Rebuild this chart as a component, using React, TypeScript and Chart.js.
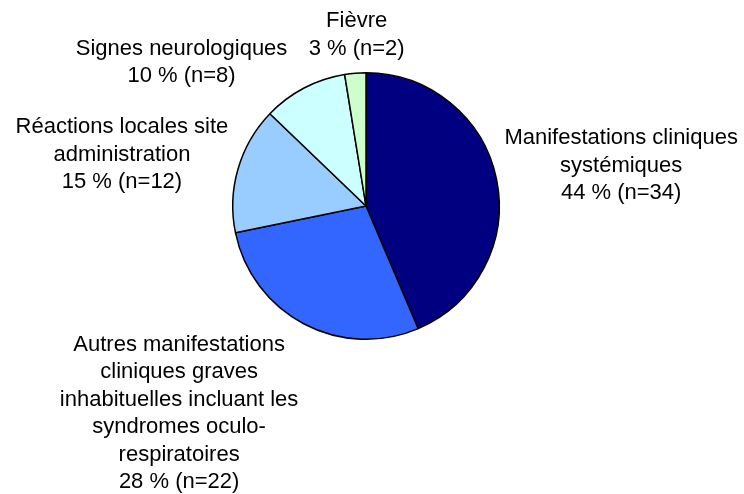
import React, { useEffect, useRef } from "react";
import { Chart, registerables } from "chart.js";

Chart.register(...registerables);

const CATEGORIES: string[][] = [
  ["Manifestations cliniques", "systémiques"],
  ["Autres manifestations", "cliniques graves", "inhabituelles incluant les", "syndromes oculo-", "respiratoires"],
  ["Réactions locales site", "administration"],
  ["Signes neurologiques"],
  ["Fièvre"],
];
const COUNTS: number[] = [34, 22, 12, 8, 2];
const COLORS: string[] = ["#000080", "#3366FF", "#99CCFF", "#CCFFFF", "#CCFFCC"];

// small layout tweaks for label blocks (px)
const LABEL_NUDGE: [number, number][] = [
  [0, -12],
  [-2, 0],
  [-2, -12],
  [-13, 9],
  [2, -3],
];

const FONT_SIZE = 22;
const LINE_H = 27.5;
const LABEL_GAP = 8;

const labelPlugin = {
  id: "pieLabels",
  afterDatasetsDraw(chart: any) {
    const ctx = chart.ctx as CanvasRenderingContext2D;
    const meta = chart.getDatasetMeta(0);
    const total = COUNTS.reduce((a, b) => a + b, 0);
    ctx.save();
    ctx.font = `${FONT_SIZE}px "Liberation Sans", Arial, sans-serif`;
    ctx.fillStyle = "#000";
    ctx.textBaseline = "middle";
    ctx.textAlign = "center";
    meta.data.forEach((arc: any, i: number) => {
      const { x, y, startAngle, endAngle, outerRadius } = arc.getProps(
        ["x", "y", "startAngle", "endAngle", "outerRadius"],
        true
      );
      const mid = (startAngle + endAngle) / 2;
      const cx = Math.cos(mid);
      const sy = Math.sin(mid);
      const ax = x + cx * (outerRadius + LABEL_GAP);
      const ay = y + sy * (outerRadius + LABEL_GAP);
      const pct = Math.round((COUNTS[i] / total) * 100);
      const lines = [...CATEGORIES[i], `${pct} % (n=${COUNTS[i]})`];
      const w = Math.max(...lines.map((l) => ctx.measureText(l).width));
      const h = lines.length * LINE_H;
      let centerX: number;
      if (cx > 0.3) centerX = ax + w / 2;
      else if (cx < -0.3) centerX = ax - w / 2;
      else centerX = ax;
      let top: number;
      if (sy < -0.5) top = ay - h;
      else if (sy > 0.5) top = ay;
      else top = ay - h / 2;
      centerX += LABEL_NUDGE[i][0];
      top += LABEL_NUDGE[i][1];
      lines.forEach((line, k) => {
        ctx.fillText(line, centerX, top + LINE_H * (k + 0.5));
      });
    });
    ctx.restore();
  },
};

export default function App() {
  const ref = useRef<HTMLCanvasElement | null>(null);
  useEffect(() => {
    document.body.style.margin = "0";
    document.body.style.overflow = "hidden";
    const canvas = ref.current;
    if (!canvas) return;
    const chart = new Chart(canvas, {
      type: "pie",
      data: {
        labels: CATEGORIES.map((c) => c.join(" ")),
        datasets: [
          {
            data: COUNTS,
            backgroundColor: COLORS,
            borderColor: "#000",
            borderWidth: 1.5,
          },
        ],
      },
      options: {
        responsive: false,
        animation: false,
        layout: { padding: { left: 232, right: 244, top: 72, bottom: 154 } },
        plugins: {
          legend: { display: false },
          tooltip: { enabled: false },
        },
      },
      plugins: [labelPlugin],
    });
    return () => chart.destroy();
  }, []);
  return (
    <div style={{ width: 744, height: 494, background: "#fff" }}>
      <canvas ref={ref} width={744} height={494} />
    </div>
  );
}
